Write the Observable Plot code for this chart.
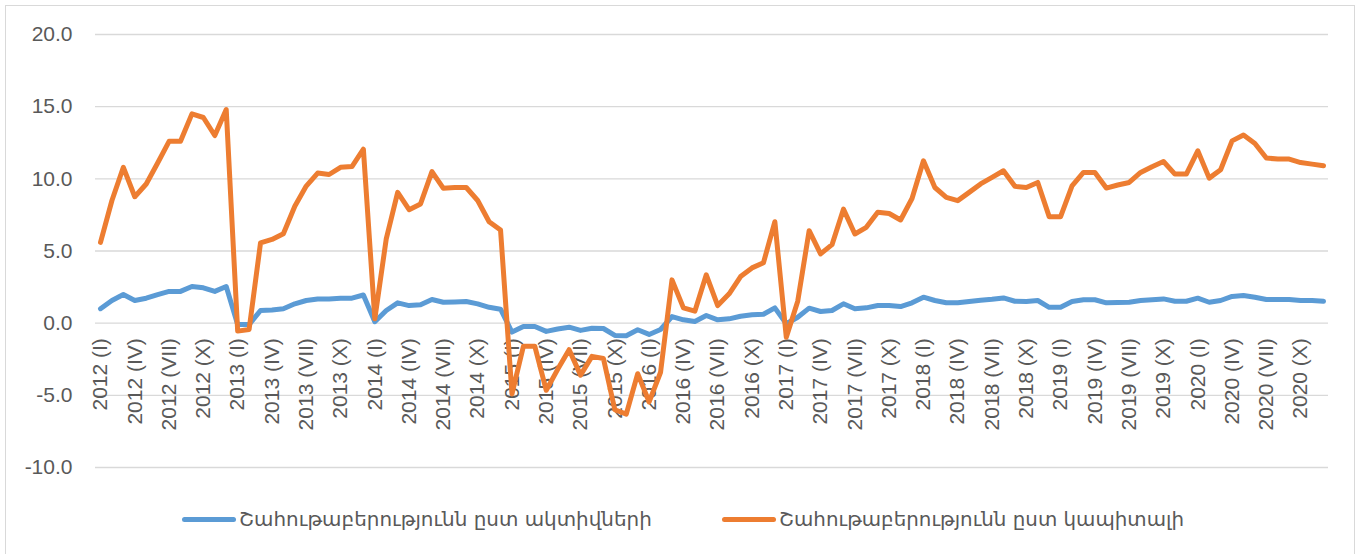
<!DOCTYPE html>
<html><head><meta charset="utf-8">
<script src="https://cdn.jsdelivr.net/npm/d3@7"></script>
<script src="https://cdn.jsdelivr.net/npm/@observablehq/plot@0.6"></script>
<style>
body{margin:0;background:#fff;}
#wrap{position:relative;width:1358px;height:554px;overflow:hidden;background:#fff;}
#border{position:absolute;left:5px;top:5px;width:1350px;height:570px;border:1px solid #d9d9d9;box-sizing:border-box;}
#chart{position:absolute;left:0;top:0;}
#legend{position:absolute;left:0;top:504px;width:1358px;height:30px;}
.item{position:absolute;top:0;display:flex;align-items:center;height:30px;}
.sw{width:54px;height:5px;border-radius:3px;margin-right:3px;flex:none}
.lt{font-family:"DejaVu Sans",sans-serif;font-size:18px;color:#595959;white-space:nowrap}
</style>
</head><body>
<div id="wrap"><div id="border"></div><div id="chart"></div>
<div id="legend">
  <div class="item" id="it0" style="left:182px"><div class="sw" style="background:#5B9BD5"></div><span class="lt" id="lt0"></span></div>
  <div class="item" id="it1" style="left:722px"><div class="sw" style="background:#ED7D31"></div><span class="lt" id="lt1"></span></div>
</div>
</div>
<script>
const seriesNames = ["Շահութաբերությունն ըստ ակտիվների", "Շահութաբերությունն ըստ կապիտալի"];
const seriesColors = ["#5B9BD5", "#ED7D31"];
const years = [2012, 2013, 2014, 2015, 2016, 2017, 2018, 2019, 2020];
const quarterMonths = ["I", "IV", "VII", "X"];
const tickLabels = [
  "2012 (I)","2012 (IV)","2012 (VII)","2012 (X)",
  "2013 (I)","2013 (IV)","2013 (VII)","2013 (X)",
  "2014 (I)","2014 (IV)","2014 (VII)","2014 (X)",
  "2015 (I)","2015 (IV)","2015 (VII)","2015 (X)",
  "2016 (I)","2016 (IV)","2016 (VII)","2016 (X)",
  "2017 (I)","2017 (IV)","2017 (VII)","2017 (X)",
  "2018 (I)","2018 (IV)","2018 (VII)","2018 (X)",
  "2019 (I)","2019 (IV)","2019 (VII)","2019 (X)",
  "2020 (I)","2020 (IV)","2020 (VII)","2020 (X)"
];
const yTicks = [-10, -5, 0, 5, 10, 15, 20];
// Return on assets (monthly, 2012-01 .. 2020-12)
const roa = [
  1.0,1.57,1.98,1.57,1.73,1.98,2.2,2.2,2.54,2.45,2.2,2.54,
  -0.1,-0.1,0.88,0.92,1.0,1.34,1.57,1.68,1.68,1.73,1.73,1.95,
  0.1,0.88,1.41,1.22,1.27,1.64,1.45,1.47,1.5,1.34,1.1,0.97,
  -0.62,-0.23,-0.23,-0.57,-0.4,-0.28,-0.5,-0.35,-0.37,-0.85,-0.87,-0.46,
  -0.78,-0.44,0.46,0.23,0.12,0.53,0.23,0.3,0.48,0.58,0.62,1.06,
  -0.04,0.41,1.04,0.81,0.88,1.34,1.0,1.06,1.22,1.22,1.15,1.41,
  1.8,1.57,1.41,1.41,1.5,1.59,1.65,1.75,1.52,1.5,1.57,1.1,
  1.1,1.5,1.62,1.62,1.41,1.43,1.45,1.57,1.62,1.68,1.52,1.52,
  1.73,1.45,1.57,1.85,1.91,1.8,1.64,1.64,1.64,1.57,1.57,1.52
];
// Return on equity
const roe = [
  5.6,8.5,10.8,8.76,9.64,11.1,12.6,12.6,14.5,14.25,13.0,14.8,
  -0.55,-0.44,5.56,5.8,6.2,8.1,9.5,10.4,10.3,10.8,10.85,12.05,
  0.3,5.84,9.06,7.86,8.26,10.5,9.34,9.4,9.4,8.5,7.03,6.45,
  -4.9,-1.6,-1.6,-4.65,-3.2,-1.84,-3.6,-2.3,-2.45,-6.0,-6.3,-3.5,
  -5.46,-3.4,3.0,1.06,0.83,3.35,1.22,2.03,3.23,3.83,4.18,7.03,
  -0.97,1.52,6.41,4.8,5.44,7.9,6.18,6.64,7.68,7.6,7.15,8.64,
  11.25,9.4,8.71,8.49,9.06,9.65,10.1,10.56,9.48,9.4,9.75,7.38,
  7.38,9.52,10.44,10.44,9.36,9.57,9.75,10.44,10.84,11.2,10.33,10.33,
  11.94,10.05,10.63,12.63,13.03,12.45,11.44,11.37,11.37,11.13,11.02,10.9
];

const roaData = roa.map((v, i) => ({i, v}));
const roeData = roe.map((v, i) => ({i, v}));
const tickData = tickLabels.map((t, k) => ({i: k * 3, t}));
const fnt = "Liberation Sans, Arial, sans-serif";

const chart = Plot.plot({
  width: 1358,
  height: 490,
  marginLeft: 95,
  marginRight: 30,
  marginTop: 34,
  marginBottom: 23,
  style: {fontFamily: fnt, background: "transparent"},
  x: {domain: [0, roa.length - 1], insetLeft: 5, insetRight: 5, axis: null},
  y: {domain: [-10, 20], axis: null},
  marks: [
    Plot.ruleY(yTicks, {stroke: "#d9d9d9", strokeWidth: 1.3}),
    Plot.text(yTicks, {y: d => d, text: d => d.toFixed(1), frameAnchor: "left", textAnchor: "end", dx: -23, fontSize: 21, fill: "#595959"}),
    Plot.text(tickData, {x: "i", y: () => 0, text: "t", rotate: -90, textAnchor: "end", dy: 15, fontSize: 21, fill: "#595959"}),
    Plot.line(roaData, {x: "i", y: "v", stroke: seriesColors[0], strokeWidth: 5, strokeLinejoin: "round", strokeLinecap: "round"}),
    Plot.line(roeData, {x: "i", y: "v", stroke: seriesColors[1], strokeWidth: 5, strokeLinejoin: "round", strokeLinecap: "round"})
  ]
});
document.getElementById("chart").appendChild(chart);

const targets = [413, 405];
seriesNames.forEach((n, k) => {
  const el = document.getElementById("lt" + k);
  el.textContent = n;
  const w = el.getBoundingClientRect().width;
  if (w > 0) el.style.fontSize = (18 * targets[k] / w).toFixed(2) + "px";
});
</script>
</body></html>
